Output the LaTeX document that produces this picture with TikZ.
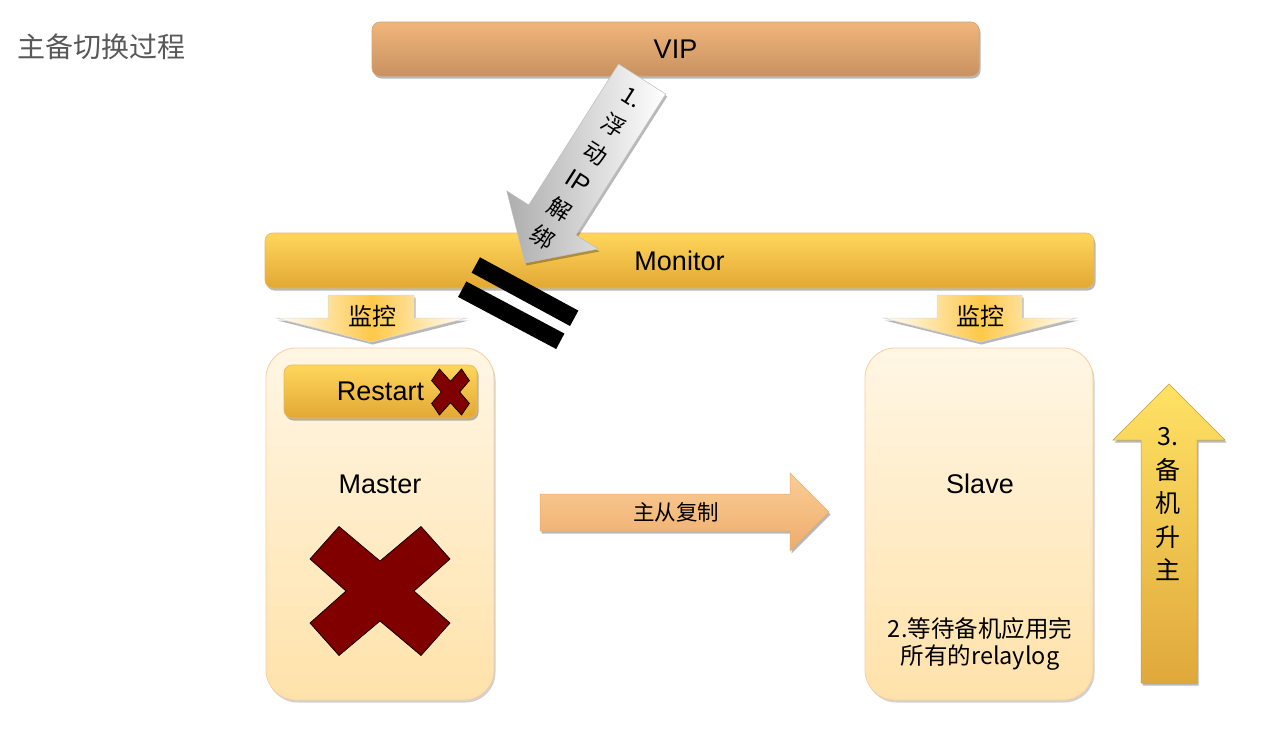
\documentclass[tikz,border=0pt]{standalone}
\usepackage{fontspec}
\setmainfont{Liberation Sans}
\newfontfamily\cjk{Noto Sans CJK SC}
\usetikzlibrary{shadows}
\definecolor{titlegray}{RGB}{89,89,89}
\definecolor{viptop}{RGB}{240,182,124}
\definecolor{vipbot}{RGB}{200,145,95}
\definecolor{vipedge}{RGB}{214,160,112}
\definecolor{montop}{RGB}{255,214,92}
\definecolor{monbot}{RGB}{226,168,52}
\definecolor{monedge}{RGB}{230,185,90}
\definecolor{boxtop}{RGB}{255,246,228}
\definecolor{boxbot}{RGB}{255,226,170}
\definecolor{boxedge}{RGB}{250,205,160}
\definecolor{peachtop}{RGB}{250,205,150}
\definecolor{peachmid}{RGB}{253,216,172}
\definecolor{peachbot}{RGB}{238,172,108}
\definecolor{peachedge}{RGB}{232,170,112}
\definecolor{uptop}{RGB}{255,226,100}
\definecolor{upbot}{RGB}{224,168,60}
\definecolor{upedge}{RGB}{205,155,55}
\definecolor{monyellow}{RGB}{255,200,72}
\definecolor{xred}{RGB}{128,0,0}
\begin{document}
\begin{tikzpicture}[x=1pt,y=-1pt,
  softshadow/.style={drop shadow={opacity=0.28, shadow xshift=1.5pt, shadow yshift=-2.5pt, fill=black}},
  latin/.style={font=\fontsize{27}{32}\selectfont, text=black},
  barbox/.style={rounded corners=8pt, softshadow, line width=0.6pt},
  hostbox/.style={rounded corners=30pt, top color=boxtop, bottom color=boxbot, draw=boxedge, line width=0.8pt,
    minimum width=228pt, minimum height=352pt, drop shadow={opacity=0.18, shadow xshift=1.5pt, shadow yshift=-2.5pt, fill=black}},
  cjklabel/.style={font=\cjk\fontsize{24}{28}\selectfont, text=black, inner sep=0pt},
  crossmark/.pic={\path[draw=black, line width=0.7pt, fill=xred]
     (-41,-64.5) -- (0,-30) -- (41,-64.5) -- (70,-32) -- (34,0) -- (70,32) -- (41,64.5)
     -- (0,30) -- (-41,64.5) -- (-70,32) -- (-34,0) -- (-70,-32) -- cycle;}
]
\useasboundingbox (0,0) rectangle (1264,729);
\fill[white] (0,0) rectangle (1264,729);

% title
\node[anchor=west, text=titlegray, font=\cjk\fontsize{28}{32}\selectfont, inner sep=0pt] (title) at (17,47) {主备切换过程};

% VIP bar
\node[barbox, top color=viptop, bottom color=vipbot, draw=vipedge, minimum width=607pt, minimum height=54pt, latin] (vip) at (675.5,49) {VIP};

% Monitor bar
\node[barbox, top color=montop, bottom color=monbot, draw=monedge, minimum width=829pt, minimum height=55pt, latin] (monitor) at (679.5,260.5) {Monitor};

% monitoring arrows
\path[softshadow, left color=white, right color=white, middle color=monyellow, draw=white!85!black, line width=0.5pt]
  (328,295) -- (414,295) -- (414,318) -- (467,318) -- (371,342) -- (276,318) -- (328,318) -- cycle;
\node[cjklabel] (monL) at (372,316) {监控};
\path[softshadow, left color=white, right color=white, middle color=monyellow, draw=white!85!black, line width=0.5pt]
  (937,295) -- (1022,295) -- (1022,318) -- (1077,318) -- (980,342) -- (883,318) -- (937,318) -- cycle;
\node[cjklabel] (monR) at (980,316) {监控};

% host boxes
\node[hostbox] (master) at (380,524) {};
\node[hostbox] (slave) at (979,524) {};

% Restart
\node[barbox, top color=montop, bottom color=monbot, draw=monedge, minimum width=193pt, minimum height=53pt, latin] (restart) at (380.5,391.5) {Restart};
\pic[xscale=0.27, yscale=0.357] at (450.5,392) {crossmark};

\node[latin] (mlabel) at (380,484) {Master};
\node[latin] (slabel) at (980,484) {Slave};
\pic at (380,591) {crossmark};

\node[cjklabel, font=\cjk\fontsize{23.5}{28}\selectfont] (wait1) at (980,629) {2.等待备机应用完};
\node[cjklabel, font=\cjk\fontsize{23.5}{28}\selectfont] (wait2) at (980,658) {所有的relaylog};

% replication arrow
\path[softshadow, top color=peachtop, middle color=peachmid, bottom color=peachbot, draw=peachedge, line width=0.5pt]
  (540,494) -- (790,494) -- (790,473) -- (829,512) -- (790,551) -- (790,531) -- (540,531) -- cycle;
\node[cjklabel, font=\cjk\fontsize{21.5}{26}\selectfont] (repl) at (676,512) {主从复制};

% promote arrow
\path[softshadow, top color=uptop, bottom color=upbot, draw=upedge, line width=0.5pt]
  (1141,683) -- (1141,440) -- (1113,440) -- (1169,384) -- (1225,440) -- (1197,440) -- (1197,683) -- cycle;
\node[cjklabel, font=\cjk\fontsize{25}{33.5}\selectfont, align=center] (up) at (1168,504) {3.\\备\\机\\升\\主};

% floating IP arrow
\path[softshadow, left color=black!32, right color=white, draw=black!25, line width=0.5pt]
  (618.5,64) -- (665.7,94) -- (576,235) -- (598,249) -- (525,263) -- (506.8,191) -- (528.8,205) -- cycle;
\node[cjklabel, rotate=-32.5, align=center, font=\cjk\fontsize{23}{33.4}\selectfont] (fip) at (586.5,168.5)
  {1.\\浮\\动\\{\rmfamily\fontsize{25}{33.4}\selectfont IP}\\解\\绑};

% broken link bars
\coordinate (b1a) at (475.8,265);
\coordinate (b1b) at (574.2,318.3);
\coordinate (b2a) at (462.2,289.2);
\coordinate (b2b) at (560.3,341.3);
\draw[line width=17.5pt, black] (b1a) -- (b1b);
\draw[line width=17.5pt, black] (b2a) -- (b2b);
\end{tikzpicture}
\end{document}
